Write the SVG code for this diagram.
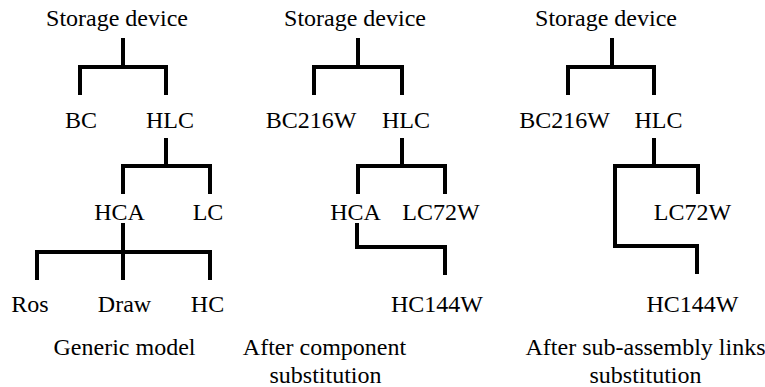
<svg xmlns="http://www.w3.org/2000/svg" width="765" height="387" viewBox="0 0 765 387">
<style>
text{font-family:"Liberation Serif","Times New Roman",serif;font-size:24px;fill:#000;text-anchor:middle}
.c{fill:none;stroke:#000;stroke-width:4;stroke-linejoin:miter;stroke-linecap:butt}
</style>
<rect width="765" height="387" fill="#fff"/>
<g id="connectors">
<path class="c" d="M123 38V67M80 95V67H166V95"/>
<path class="c" d="M166 138V166M123 194V166H210V194"/>
<path class="c" d="M123 223V252M37 280V252H210V280M123 252V280"/>
<path class="c" d="M358 38V67M314 95V67H402V95"/>
<path class="c" d="M402 138V166M358 194V166H445V194"/>
<path class="c" d="M357 223V247H445V275"/>
<path class="c" d="M612 38V67M568 95V67H654V95"/>
<path class="c" d="M654 138V166M698 194V166H615V246H697V274"/>
</g>
<g id="p1-root"><text x="117" y="26">Storage device</text></g>
<g id="p1-bc"><text x="81" y="128">BC</text></g>
<g id="p1-hlc"><text x="170" y="128">HLC</text></g>
<g id="p1-hca"><text x="119.5" y="220">HCA</text></g>
<g id="p1-lc"><text x="208" y="220">LC</text></g>
<g id="p1-ros"><text x="30" y="312">Ros</text></g>
<g id="p1-draw"><text x="124.5" y="312">Draw</text></g>
<g id="p1-hc"><text x="207.5" y="312">HC</text></g>
<g id="p1-caption"><text x="124.5" y="355">Generic model</text></g>
<g id="p2-root"><text x="355" y="26">Storage device</text></g>
<g id="p2-bc"><text x="311" y="128">BC216W</text></g>
<g id="p2-hlc"><text x="406" y="128">HLC</text></g>
<g id="p2-hca"><text x="355.5" y="220">HCA</text></g>
<g id="p2-lc"><text x="441" y="220">LC72W</text></g>
<g id="p2-hc"><text x="437" y="312">HC144W</text></g>
<g id="p2-caption"><text x="324.5" y="355">After component</text><text x="325.5" y="383">substitution</text></g>
<g id="p3-root"><text x="606" y="26">Storage device</text></g>
<g id="p3-bc"><text x="564.5" y="128">BC216W</text></g>
<g id="p3-hlc"><text x="658.5" y="128">HLC</text></g>
<g id="p3-lc"><text x="692.5" y="220">LC72W</text></g>
<g id="p3-hc"><text x="692.5" y="312">HC144W</text></g>
<g id="p3-caption"><text x="645.5" y="355">After sub-assembly links</text><text x="645.5" y="383">substitution</text></g>
</svg>
